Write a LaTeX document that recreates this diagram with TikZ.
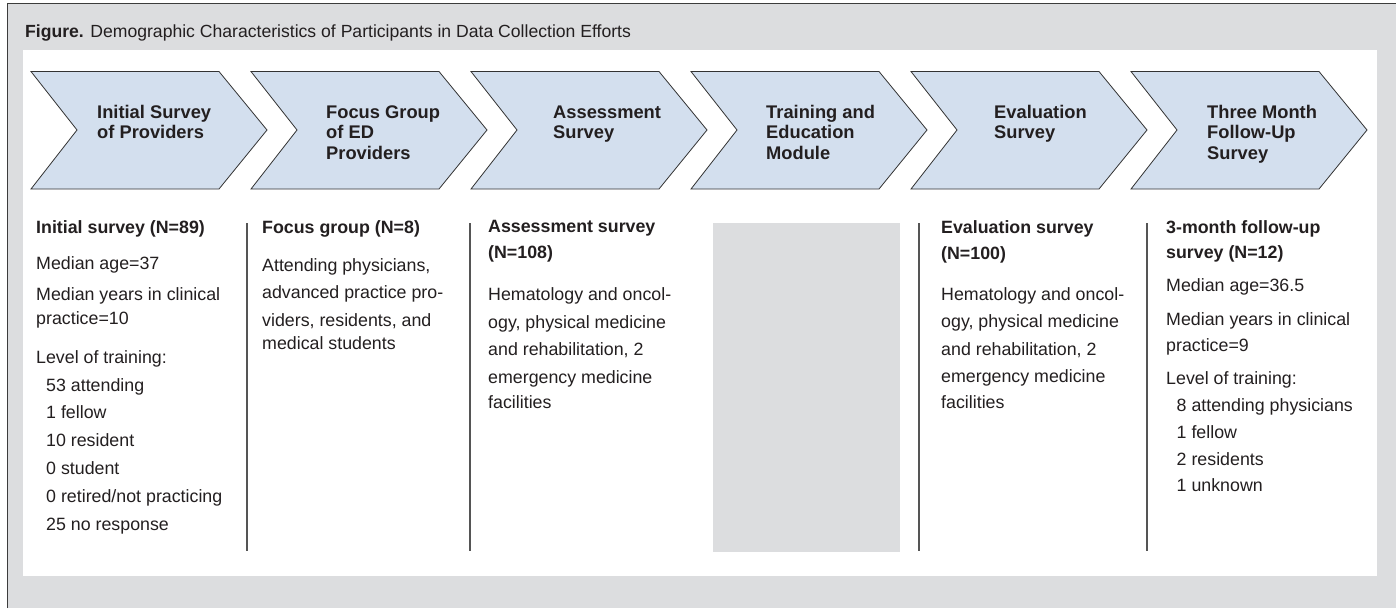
\documentclass[tikz,border=0pt]{standalone}
\usepackage{fontspec}
\setmainfont{Liberation Sans}
\definecolor{bggray}{RGB}{220,221,223}
\definecolor{chevfill}{RGB}{211,223,238}
\definecolor{sepgray}{RGB}{85,85,85}
\definecolor{txtcol}{RGB}{35,31,32}
\definecolor{framecol}{RGB}{60,60,60}
\begin{document}
\begin{tikzpicture}[x=1pt,y=-1pt,
  chev/.style={fill=chevfill, draw=black!80, line width=0.8pt, line join=miter},
  lbl/.style={anchor=base west, inner sep=0pt, font=\fontsize{18.3}{20}\selectfont\bfseries, text=txtcol},
  hd/.style={anchor=base west, inner sep=0pt, font=\fontsize{17.8}{21}\selectfont\bfseries, text=txtcol},
  bd/.style={anchor=base west, inner sep=0pt, font=\fontsize{17.8}{21}\selectfont, text=txtcol},
  sepline/.style={draw=sepgray, line width=1.3pt},
  capt/.style={anchor=base west, inner sep=0pt, font=\fontsize{17.6}{20}\selectfont, text=txtcol}]
\useasboundingbox (0,0) rectangle (1396,608);
\fill[white] (0,0) rectangle (1396,608);
% outer frame
\fill[bggray] (7,3) rectangle (1396,608);
\draw[framecol, line width=1pt] (7,608) -- (7,3) -- (1396,3);
% caption
\node[capt] (caption) at (25,37) {\textbf{Figure.} Demographic Characteristics of Participants in Data Collection Efforts};
% white panel
\fill[white] (23,50) rectangle (1377,576);
% chevrons
\foreach \k in {0,...,5}{
  \pgfmathsetmacro{\L}{31+220*\k}
  \draw[chev] (\L,71.5) -- (\L+188,71.5) -- (\L+236,130) -- (\L+188,189) -- (\L,189) -- (\L+46,130) -- cycle;
}
% chevron labels
\node[lbl] (c1a) at (97,118) {Initial Survey};
\node[lbl] (c1b) at (97,138.5) {of Providers};
\node[lbl] (c2a) at (326,118) {Focus Group};
\node[lbl] (c2b) at (326,138.5) {of ED};
\node[lbl] (c2c) at (326,159) {Providers};
\node[lbl] (c3a) at (553,118) {Assessment};
\node[lbl] (c3b) at (553,138.5) {Survey};
\node[lbl] (c4a) at (766,118) {Training and};
\node[lbl] (c4b) at (766,138.5) {Education};
\node[lbl] (c4c) at (766,159) {Module};
\node[lbl] (c5a) at (994,118) {Evaluation};
\node[lbl] (c5b) at (994,138.5) {Survey};
\node[lbl] (c6a) at (1207,118) {Three Month};
\node[lbl] (c6b) at (1207,138.5) {Follow-Up};
\node[lbl] (c6c) at (1207,159) {Survey};
% separators and grey box
\draw[sepline] (247,223) -- (247,551);
\draw[sepline] (470,223) -- (470,551);
\draw[sepline] (919,223) -- (919,551);
\draw[sepline] (1147,223) -- (1147,551);
\fill[bggray] (712.7,222.7) rectangle (900,551.7);
% column 1
\node[hd] (t1h) at (36,233) {Initial survey (N=89)};
\node[bd] (t1a) at (36,269) {Median age=37};
\node[bd] (t1b) at (36,300) {Median years in clinical};
\node[bd] (t1c) at (36,324.5) {practice=10};
\node[bd] (t1d) at (36,363.3) {Level of training:};
\node[bd] (t1e) at (46,391) {53 attending};
\node[bd] (t1f) at (46,418.7) {1 fellow};
\node[bd] (t1g) at (46,446.7) {10 resident};
\node[bd] (t1h2) at (46,474.3) {0 student};
\node[bd] (t1i) at (46,502.7) {0 retired/not practicing};
\node[bd] (t1j) at (46,530) {25 no response};
% column 2
\node[hd] (t2h) at (262,233) {Focus group (N=8)};
\node[bd] (t2a) at (262,271.5) {Attending physicians,};
\node[bd] (t2b) at (262,298.7) {advanced practice pro-};
\node[bd] (t2c) at (262,326) {viders, residents, and};
\node[bd] (t2d) at (262,349.5) {medical students};
% column 3
\node[hd] (t3h) at (488,232) {Assessment survey};
\node[hd] (t3i) at (488,258.5) {(N=108)};
\node[bd] (t3a) at (488,300) {Hematology and oncol-};
\node[bd] (t3b) at (488,328) {ogy, physical medicine};
\node[bd] (t3c) at (488,355.5) {and rehabilitation, 2};
\node[bd] (t3d) at (488,383) {emergency medicine};
\node[bd] (t3e) at (488,408.5) {facilities};
% column 5
\node[hd] (t5h) at (941,233) {Evaluation survey};
\node[hd] (t5i) at (941,259.5) {(N=100)};
\node[bd] (t5a) at (941,300) {Hematology and oncol-};
\node[bd] (t5b) at (941,327.7) {ogy, physical medicine};
\node[bd] (t5c) at (941,355) {and rehabilitation, 2};
\node[bd] (t5d) at (941,382) {emergency medicine};
\node[bd] (t5e) at (941,408.5) {facilities};
% column 6
\node[hd] (t6h) at (1166,233) {3-month follow-up};
\node[hd] (t6i) at (1166,258.5) {survey (N=12)};
\node[bd] (t6a) at (1166,291) {Median age=36.5};
\node[bd] (t6b) at (1166,325) {Median years in clinical};
\node[bd] (t6c) at (1166,351.5) {practice=9};
\node[bd] (t6d) at (1166,384.5) {Level of training:};
\node[bd] (t6e) at (1176.5,411.7) {8 attending physicians};
\node[bd] (t6f) at (1176.5,438.3) {1 fellow};
\node[bd] (t6g) at (1176.5,465) {2 residents};
\node[bd] (t6j) at (1176.5,491.7) {1 unknown};
\end{tikzpicture}
\end{document}
